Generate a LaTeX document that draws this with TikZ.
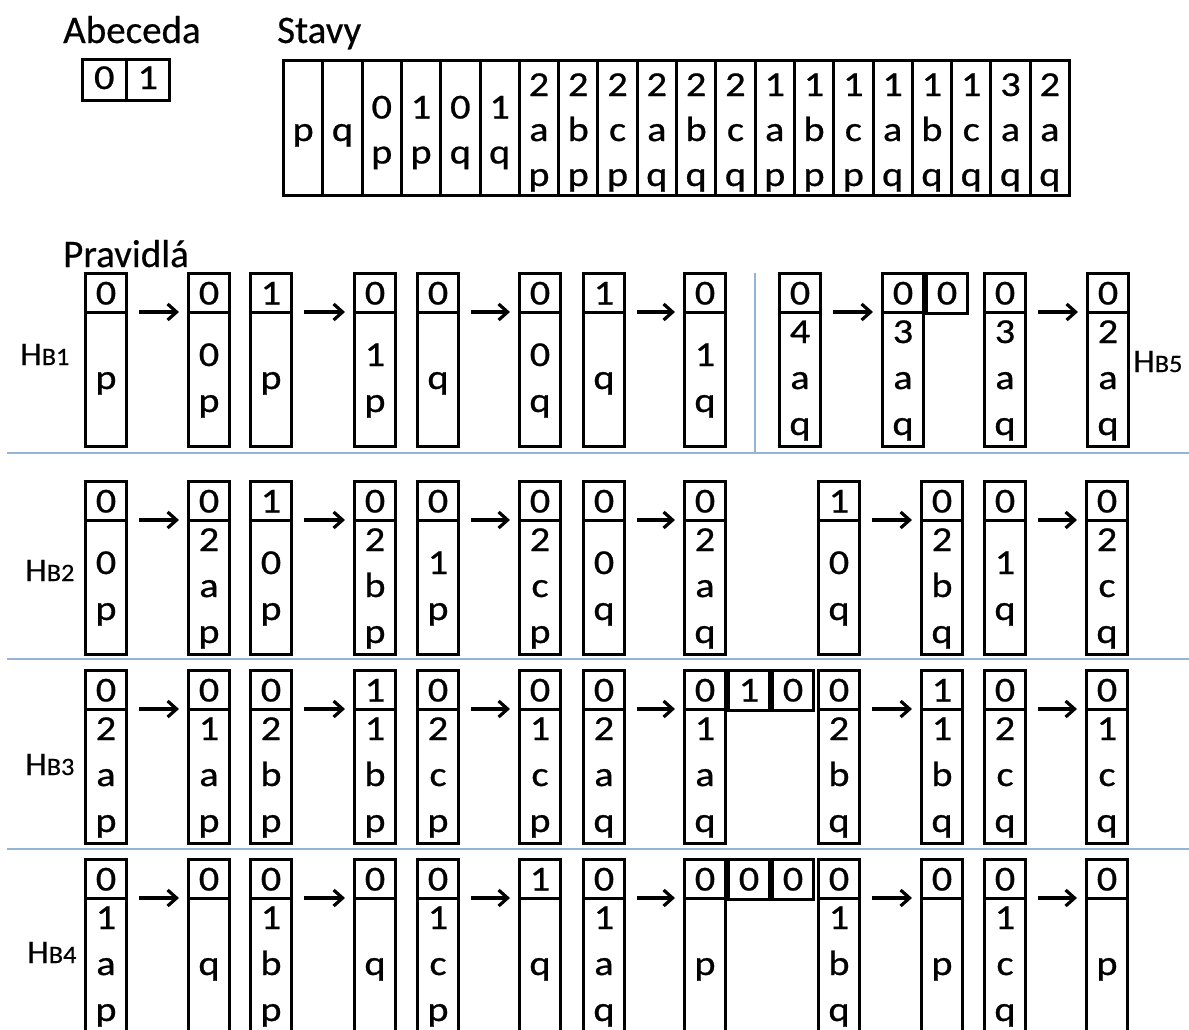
\documentclass[tikz,border=0pt]{standalone}
\usepackage{fontspec}
\setmainfont{Carlito}[FakeBold=0.5]
\newfontfamily\boxfont[FakeStretch=1.15,FakeBold=0.7]{Carlito}
\newfontfamily\labfont[FakeStretch=1.05,FakeBold=0.5]{Carlito}
\usetikzlibrary{arrows.meta}
\definecolor{sepblue}{RGB}{149,179,215}
\newcommand{\BT}{\boxfont\fontsize{35}{40}\selectfont}
\newcommand{\HT}{\fontsize{39}{47}\selectfont}
\tikzset{
  bline/.style={line width=3pt},
  rbox/.style={draw, line width=3pt, rectangle, inner sep=0pt, minimum width=41pt, minimum height=173pt},
  xbox/.style={draw, line width=3pt, rectangle, inner sep=0pt, minimum width=41pt, minimum height=40pt},
  scell/.style={draw, line width=3pt, rectangle, inner sep=0pt, minimum width=39.3pt, minimum height=135pt},
  acell/.style={draw, line width=3pt, rectangle, inner sep=0pt, minimum width=43.5pt, minimum height=41pt},
  btxt/.style={anchor=base, inner sep=0pt, font=\BT},
  head/.style={anchor=base west, inner sep=0pt, font=\HT},
  lab/.style={anchor=base west, inner sep=0pt},
  arr/.style={line width=3.2pt, -{Straight Barb[length=9pt,width=16pt]}},
  sep/.style={sepblue, line width=2.2pt}
}
% name, x, ytop, top digit, number of lines, lines
\newcommand{\RB}[6]{%
  \node[rbox, anchor=north west] (#1) at (#2,#3) {};
  \draw[bline] ([yshift=-40pt]#1.north west) -- ([yshift=-40pt]#1.north east);
  \node[btxt] at ([yshift=-32.5pt]#1.north) {#4};
  \foreach \tx [count=\i] in {#6} {
    \pgfmathsetmacro\off{117+(\i-(#5+1)/2)*46}
    \node[btxt] at ([yshift=-\off pt]#1.north) {\tx};
  }
}
% extra top cell: name, north west position, digit
\newcommand{\EX}[3]{%
  \node[xbox, anchor=north west] (#1) at (#2) {};
  \node[btxt] at ([yshift=-32.5pt]#1.north) {#3};
}
\newcommand{\AR}[2]{\draw[arr] ([xshift=11pt,yshift=-40pt]#1.north east) -- ([xshift=-8pt,yshift=-40pt]#2.north west);}
\newcommand{\HB}[1]{{\labfont\fontsize{33}{38}\selectfont H\fontsize{25}{28}\selectfont B#1}}
\begin{document}
\begin{tikzpicture}[x=1pt,y=-1pt]
\useasboundingbox (0,0) rectangle (1189,1029);
\clip (0,0) rectangle (1189,1029);
\fill[white] (0,0) rectangle (1189,1029);

% headings
\node[head] (habc) at (63,43) {Abeceda};
\node[head] (hst) at (277,43) {Stavy};
\node[head] (hpr) at (63,267) {Pravidlá};

% alphabet
\node[acell, anchor=north west] (a0) at (81,58) {};
\node[acell, anchor=north west] (a1) at (124.5,58) {};
\node[btxt] at ([yshift=-31pt]a0.north) {0};
\node[btxt] at ([yshift=-31pt]a1.north) {1};

% states
\foreach \n/\c [count=\k] in {1/p,1/q,2/{0,p},2/{1,p},2/{0,q},2/{1,q},3/{2,a,p},3/{2,b,p},3/{2,c,p},3/{2,a,q},3/{2,b,q},3/{2,c,q},3/{1,a,p},3/{1,b,p},3/{1,c,p},3/{1,a,q},3/{1,b,q},3/{1,c,q},3/{3,a,q},3/{2,a,q}} {
  \pgfmathsetmacro\sx{282+(\k-1)*39.3}
  \node[scell, anchor=north west] (s\k) at (\sx,59) {};
  \foreach \tx [count=\i] in \c {
    \pgfmathsetmacro\off{82+(\i-(\n+1)/2)*45}
    \node[btxt] at ([yshift=-\off pt]s\k.north) {\tx};
  }
}

% separators
\draw[sep] (7,453) -- (1189,453);
\draw[sep] (7,659) -- (1189,659);
\draw[sep] (7,849) -- (1189,849);
\draw[sep] (755,273) -- (755,453);

% labels
\node[lab] (l1) at (20,365) {\HB{1}};
\node[lab] (l2) at (25,581) {\HB{2}};
\node[lab] (l3) at (25,775) {\HB{3}};
\node[lab] (l4) at (27,963) {\HB{4}};
\node[lab] (l5) at (1133,372) {\HB{5}};

% row 1
\RB{ra1}{84}{272}{0}{1}{p}
\RB{ra2}{187}{272}{0}{2}{0,p}
\RB{ra3}{249}{272}{1}{1}{p}
\RB{ra4}{353}{272}{0}{2}{1,p}
\RB{ra5}{416}{272}{0}{1}{q}
\RB{ra6}{518}{272}{0}{2}{0,q}
\RB{ra7}{582}{272}{1}{1}{q}
\RB{ra8}{683}{272}{0}{2}{1,q}
\RB{ra9}{778}{272}{0}{3}{4,a,q}
\RB{ra10}{881}{272}{0}{3}{3,a,q}
\EX{ra10x}{ra10.north east}{0}
\RB{ra11}{983}{272}{0}{3}{3,a,q}
\RB{ra12}{1086}{272}{0}{3}{2,a,q}
\AR{ra1}{ra2}\AR{ra3}{ra4}\AR{ra5}{ra6}\AR{ra7}{ra8}\AR{ra9}{ra10}\AR{ra11}{ra12}

% row 2
\RB{rb1}{84}{480}{0}{2}{0,p}
\RB{rb2}{187}{480}{0}{3}{2,a,p}
\RB{rb3}{249}{480}{1}{2}{0,p}
\RB{rb4}{353}{480}{0}{3}{2,b,p}
\RB{rb5}{416}{480}{0}{2}{1,p}
\RB{rb6}{518}{480}{0}{3}{2,c,p}
\RB{rb7}{582}{480}{0}{2}{0,q}
\RB{rb8}{683}{480}{0}{3}{2,a,q}
\RB{rb9}{817}{480}{1}{2}{0,q}
\RB{rb10}{920}{480}{0}{3}{2,b,q}
\RB{rb11}{983}{480}{0}{2}{1,q}
\RB{rb12}{1085}{480}{0}{3}{2,c,q}
\AR{rb1}{rb2}\AR{rb3}{rb4}\AR{rb5}{rb6}\AR{rb7}{rb8}\AR{rb9}{rb10}\AR{rb11}{rb12}

% row 3
\RB{rc1}{84}{669}{0}{3}{2,a,p}
\RB{rc2}{187}{669}{0}{3}{1,a,p}
\RB{rc3}{249}{669}{0}{3}{2,b,p}
\RB{rc4}{353}{669}{1}{3}{1,b,p}
\RB{rc5}{416}{669}{0}{3}{2,c,p}
\RB{rc6}{518}{669}{0}{3}{1,c,p}
\RB{rc7}{582}{669}{0}{3}{2,a,q}
\RB{rc8}{683}{669}{0}{3}{1,a,q}
\EX{rc8x}{rc8.north east}{1}
\EX{rc8y}{rc8x.north east}{0}
\RB{rc9}{817}{669}{0}{3}{2,b,q}
\RB{rc10}{920}{669}{1}{3}{1,b,q}
\RB{rc11}{983}{669}{0}{3}{2,c,q}
\RB{rc12}{1085}{669}{0}{3}{1,c,q}
\AR{rc1}{rc2}\AR{rc3}{rc4}\AR{rc5}{rc6}\AR{rc7}{rc8}\AR{rc9}{rc10}\AR{rc11}{rc12}

% row 4
\RB{rd1}{84}{858}{0}{3}{1,a,p}
\RB{rd2}{187}{858}{0}{1}{q}
\RB{rd3}{249}{858}{0}{3}{1,b,p}
\RB{rd4}{353}{858}{0}{1}{q}
\RB{rd5}{416}{858}{0}{3}{1,c,p}
\RB{rd6}{518}{858}{1}{1}{q}
\RB{rd7}{582}{858}{0}{3}{1,a,q}
\RB{rd8}{683}{858}{0}{1}{p}
\EX{rd8x}{rd8.north east}{0}
\EX{rd8y}{rd8x.north east}{0}
\RB{rd9}{817}{858}{0}{3}{1,b,q}
\RB{rd10}{920}{858}{0}{1}{p}
\RB{rd11}{983}{858}{0}{3}{1,c,q}
\RB{rd12}{1085}{858}{0}{1}{p}
\AR{rd1}{rd2}\AR{rd3}{rd4}\AR{rd5}{rd6}\AR{rd7}{rd8}\AR{rd9}{rd10}\AR{rd11}{rd12}
\end{tikzpicture}
\end{document}
